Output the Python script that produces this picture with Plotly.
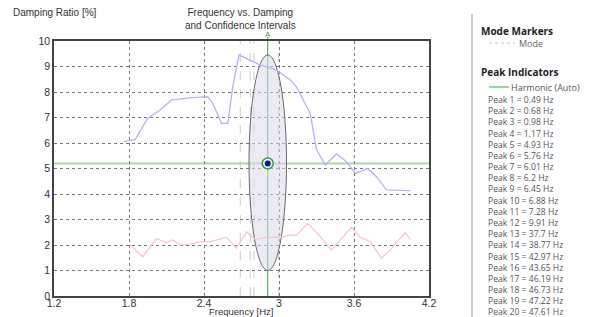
import plotly.graph_objects as go

# ---- data ----
blue_freq = [1.76, 1.85, 1.95, 2.05, 2.14, 2.23, 2.31, 2.43, 2.47, 2.54, 2.59, 2.63, 2.68,
             2.85, 2.98, 3.09, 3.14, 3.25, 3.30, 3.37, 3.46, 3.54, 3.61, 3.71, 3.78, 3.86, 4.05]
blue_damp = [6.05, 6.14, 6.97, 7.29, 7.69, 7.75, 7.78, 7.82, 7.56, 6.77, 6.77, 8.21, 9.45,
             9.06, 8.86, 8.47, 8.20, 7.16, 5.73, 5.14, 5.57, 5.27, 4.81, 5.00, 4.68, 4.16, 4.13]

red_freq = [1.81, 1.91, 2.02, 2.10, 2.15, 2.21, 2.29, 2.37, 2.45, 2.58, 2.66, 2.74, 2.81,
            2.90, 3.01, 3.09, 3.14, 3.23, 3.33, 3.42, 3.49, 3.58, 3.65, 3.73, 3.82, 3.89,
            3.96, 4.01, 4.05]
red_damp = [2.00, 1.54, 2.26, 2.09, 2.20, 2.00, 2.04, 2.12, 2.13, 2.30, 1.87, 2.52, 2.22,
            2.30, 2.30, 2.39, 2.39, 2.85, 2.33, 1.80, 2.20, 2.69, 2.30, 2.13, 1.48, 1.80,
            2.20, 2.48, 2.22]

mode_freq = 2.91
mode_damp = 5.2
ci_freq_low, ci_freq_high = 2.76, 3.06
ci_damp_low, ci_damp_high = 1.0, 9.45
mode_marker_freqs = [2.69, 2.77, 2.80, 2.995]

x_ticks = [1.2, 1.8, 2.4, 3.0, 3.6, 4.2]
x_tick_labels = ["1.2", "1.8", "2.4", "3", "3.6", "4.2"]
y_ticks = list(range(0, 11))

peak_labels = ["Peak 1 = 0.49 Hz", "Peak 2 = 0.68 Hz", "Peak 3 = 0.98 Hz", "Peak 4 = 1.17 Hz",
               "Peak 5 = 4.93 Hz", "Peak 6 = 5.76 Hz", "Peak 7 = 6.01 Hz", "Peak 8 = 6.2 Hz",
               "Peak 9 = 6.45 Hz", "Peak 10 = 6.88 Hz", "Peak 11 = 7.28 Hz", "Peak 12 = 9.91 Hz",
               "Peak 13 = 37.7 Hz", "Peak 14 = 38.77 Hz", "Peak 15 = 42.97 Hz", "Peak 16 = 43.65 Hz",
               "Peak 17 = 46.19 Hz", "Peak 18 = 46.73 Hz", "Peak 19 = 47.22 Hz", "Peak 20 = 47.61 Hz"]

W, H = 590, 317
PX0, PX1, PY0, PY1 = 54, 429, 41, 296  # plot area in pixels

def px(x):
    return x / W

def py(y):
    return 1 - y / H

fig = go.Figure()

shapes = []
# confidence ellipse
shapes.append(dict(type="circle", xref="x", yref="y",
                   x0=ci_freq_low, x1=ci_freq_high, y0=ci_damp_low, y1=ci_damp_high,
                   fillcolor="rgba(220,218,234,0.55)", line=dict(color="#6a6a6a", width=1),
                   layer="between"))
# mode marker dashed lines
for f in mode_marker_freqs:
    shapes.append(dict(type="line", xref="x", yref="paper", x0=f, x1=f,
                       y0=py(PY1), y1=py(PY0), line=dict(color="#cccccc", width=1, dash="dash"),
                       layer="between"))
# harmonic horizontal line
shapes.append(dict(type="line", xref="paper", yref="y", x0=px(PX0), x1=px(PX1),
                   y0=mode_damp, y1=mode_damp, line=dict(color="#a9d6a9", width=2),
                   layer="between"))
# vertical green line
shapes.append(dict(type="line", xref="x", yref="paper", x0=mode_freq, x1=mode_freq,
                   y0=py(PY1), y1=py(37), line=dict(color="#3a9a3a", width=1),
                   layer="between"))
# legend separator
shapes.append(dict(type="line", xref="paper", yref="paper", x0=px(472), x1=px(472),
                   y0=py(317), y1=py(14), line=dict(color="#cfcfcf", width=2)))
# legend samples
shapes.append(dict(type="line", xref="paper", yref="paper", x0=px(489), x1=px(515),
                   y0=py(43), y1=py(43), line=dict(color="#c4c4c4", width=1, dash="3px,3px")))
shapes.append(dict(type="line", xref="paper", yref="paper", x0=px(489), x1=px(509),
                   y0=py(87), y1=py(87), line=dict(color="#7cc47c", width=1.5)))

fig.add_trace(go.Scatter(x=blue_freq, y=blue_damp, mode="lines",
                         line=dict(color="#b4b4f0", width=1.3), showlegend=False))
fig.add_trace(go.Scatter(x=red_freq, y=red_damp, mode="lines",
                         line=dict(color="#f2c4cc", width=1.2), showlegend=False))
# mode point: green ring with a dark-blue centre
fig.add_trace(go.Scatter(x=[mode_freq], y=[mode_damp], mode="markers",
                         marker=dict(color="#eef3ee", size=11, line=dict(color="#3a9a3a", width=1.5)),
                         showlegend=False))
fig.add_trace(go.Scatter(x=[mode_freq], y=[mode_damp], mode="markers",
                         marker=dict(color="#0a1a9a", size=6, line=dict(width=0)),
                         showlegend=False))

SANS = "Liberation Sans, Arial"
UI = "Open Sans"

def note(text, x, y, size, color, xanchor="left", family=UI, xref="paper", align="left"):
    return dict(text=text, x=x, y=py(y), xref=xref, yref="paper", xanchor=xanchor,
                yanchor="middle", showarrow=False, align=align, borderpad=0,
                font=dict(family=family, size=size, color=color))

ann = []
ann.append(note("Frequency vs. Damping<br>and Confidence Intervals", px(240), 19, 10, "#333",
                xanchor="center", family=SANS, align="center"))
ann.append(note("Damping Ratio [%]", px(12), 13, 10, "#333", family=SANS))
ann.append(note("Frequency [Hz]", px(241), 311, 9.5, "#333", xanchor="center", family=SANS))
ann.append(note("A", mode_freq, 35, 8, "#3a9a3a", xanchor="center", family=SANS, xref="x"))
ann.append(note("<b>Mode Markers</b>", px(480), 31, 10, "#222"))
ann.append(note("Mode", px(518), 43, 9, "#666"))
ann.append(note("<b>Peak Indicators</b>", px(480), 72, 10, "#222"))
ann.append(note("Harmonic (Auto)", px(510), 87, 9, "#555"))
# all peak labels in one multi-line block (line spacing = 1.3 x font size)
peak_size = 8.6
ann.append(note("<br>".join(peak_labels), px(487), 99.3 + 19 * 11.2 / 2, peak_size, "#555"))

fig.update_layout(
    width=W, height=H, margin=dict(l=0, r=0, t=0, b=0, autoexpand=False),
    paper_bgcolor="white", plot_bgcolor="white",
    shapes=shapes, annotations=ann,
    xaxis=dict(domain=[px(PX0), px(PX1)], range=[1.2, 4.2], tickvals=x_ticks,
               ticktext=x_tick_labels, showgrid=True, gridcolor="#777", griddash="dot",
               gridwidth=1, showline=True, mirror=True, linecolor="#444", linewidth=1.5,
               zeroline=False, ticks="", automargin=False, ticklabelstandoff=-3,
               tickfont=dict(family=SANS, size=10.5, color="#333")),
    yaxis=dict(domain=[py(PY1), py(PY0)], range=[0, 10], tickvals=y_ticks,
               showgrid=True, gridcolor="#777", griddash="dot", gridwidth=1,
               showline=True, mirror=True, linecolor="#444", linewidth=1.5,
               zeroline=False, ticks="", automargin=False,
               tickfont=dict(family=SANS, size=10.5, color="#333")),
)

fig.write_html("out.html", config={"displayModeBar": False},
               post_script="document.body.style.margin='0px';document.body.style.overflow='hidden';")
